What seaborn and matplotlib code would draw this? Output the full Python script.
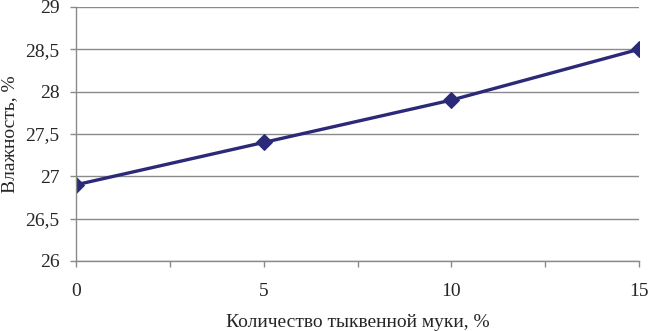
import numpy as np
import pandas as pd
import seaborn as sns
import matplotlib.pyplot as plt
from matplotlib.ticker import MultipleLocator, FuncFormatter

flour_pct = [0, 5, 10, 15]
moisture = [26.9, 27.4, 27.9, 28.5]

df = pd.DataFrame({'flour': flour_pct, 'moisture': moisture})

sns.set_style('white')
plt.rcParams['font.family'] = ['Liberation Serif', 'DejaVu Serif']
plt.rcParams['font.size'] = 14

fig = plt.figure(figsize=(6.5, 3.31), dpi=100)
ax = plt.subplot()
fig.subplots_adjust(left=0.117, right=0.983, top=0.979, bottom=0.2115)

sns.lineplot(data=df, x='flour', y='moisture', color='#2b2a78',
             linewidth=2.4, marker='D', markersize=8.5,
             markeredgecolor='#2b2a78', ax=ax)

ax.set_xlim(0, 15)
ax.set_ylim(26, 29)
ax.xaxis.set_major_locator(MultipleLocator(5))
ax.xaxis.set_minor_locator(MultipleLocator(2.5))
ax.yaxis.set_major_locator(MultipleLocator(0.5))
ax.yaxis.set_major_formatter(FuncFormatter(lambda v, p: ('%g' % v).replace('.', ',')))
ax.grid(axis='y', color='#8a8a8a', linewidth=1)
ax.set_axisbelow(True)

for s in ['top', 'right']:
    ax.spines[s].set_visible(False)
for s in ['left', 'bottom']:
    ax.spines[s].set_color('#8a8a8a')
    ax.spines[s].set_linewidth(1)
ax.tick_params(axis='both', which='both', direction='out', color='#8a8a8a',
               length=4, width=1, bottom=True, left=True)
ax.tick_params(axis='x', which='major', pad=12, labelsize=14)
ax.tick_params(axis='y', pad=8, labelsize=14)

ax.set_xlabel('Количество тыквенной муки, %', fontsize=14, labelpad=10)
ax.set_ylabel('Влажность, %', fontsize=14, labelpad=5)

fig.savefig('out.png', dpi=100)
